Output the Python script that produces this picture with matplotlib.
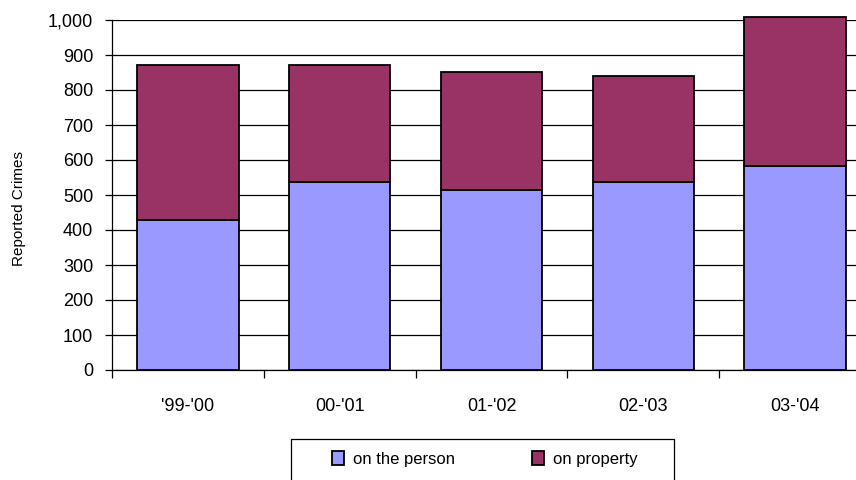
import matplotlib
matplotlib.use("Agg")
import matplotlib.pyplot as plt
from matplotlib.patches import Rectangle
from matplotlib.ticker import FuncFormatter, FixedLocator

categories = ["'99-'00", "00-'01", "01-'02", "02-'03", "03-'04"]
on_person = [429, 536, 514, 536, 584]
on_property = [442, 336, 337, 304, 425]
series_names = ["on the person", "on property"]
colors = ["#9999FF", "#993366"]

plt.rcParams['font.family'] = ['Liberation Sans', 'DejaVu Sans']

fig = plt.figure(figsize=(8.56, 4.8), dpi=100)
ax = fig.add_axes([112/856, 1-370/480, 759/856, 350/480])

x = list(range(len(categories)))
b1 = ax.bar(x, on_person, width=0.667, color=colors[0], edgecolor='black',
            linewidth=1.3, label=series_names[0], zorder=3, clip_on=False)
b2 = ax.bar(x, on_property, bottom=on_person, width=0.667, color=colors[1],
            edgecolor='black', linewidth=1.3, label=series_names[1], zorder=3,
            clip_on=False)

ax.set_xlim(-0.5, len(categories) - 0.5)
ax.set_ylim(0, 1000)
ax.set_yticks(range(0, 1001, 100))
ax.yaxis.set_major_formatter(FuncFormatter(lambda v, p: f"{int(v):,}"))
ax.yaxis.grid(True, color='black', linewidth=0.9, zorder=0)
ax.set_axisbelow(True)

ax.set_xticks(x)
ax.set_xticklabels(categories)
ax.xaxis.set_minor_locator(FixedLocator([i - 0.5 for i in range(len(categories) + 1)]))
ax.tick_params(axis='x', which='major', length=0, pad=20, labelsize=13)
ax.tick_params(axis='x', which='minor', length=6, width=0.9, color='black', direction='out')
ax.tick_params(axis='y', length=5, width=0.9, direction='out', labelsize=13, pad=8.5)

for s in ['top', 'right']:
    ax.spines[s].set_visible(False)
ax.spines['left'].set_linewidth(0.9)
ax.spines['bottom'].set_linewidth(0.9)

fig.text(19/856, 1-208/480, "Reported Crimes", rotation=90, ha='center', va='center', fontsize=11)

# legend box
fig.patches.append(Rectangle((291/856, 1-486/480), 383/856, 47/480, transform=fig.transFigure,
                             facecolor='white', edgecolor='black', linewidth=0.9))
leg = fig.legend(handles=[b1, b2], labels=series_names, loc='center left',
                 bbox_to_anchor=(332/856, 1-459/480), ncol=2, frameon=False,
                 fontsize=12, handlelength=0.72, handleheight=0.84, handletextpad=0.54,
                 columnspacing=4.6, borderpad=0, borderaxespad=0)

fig.savefig("out.png", dpi=100)
